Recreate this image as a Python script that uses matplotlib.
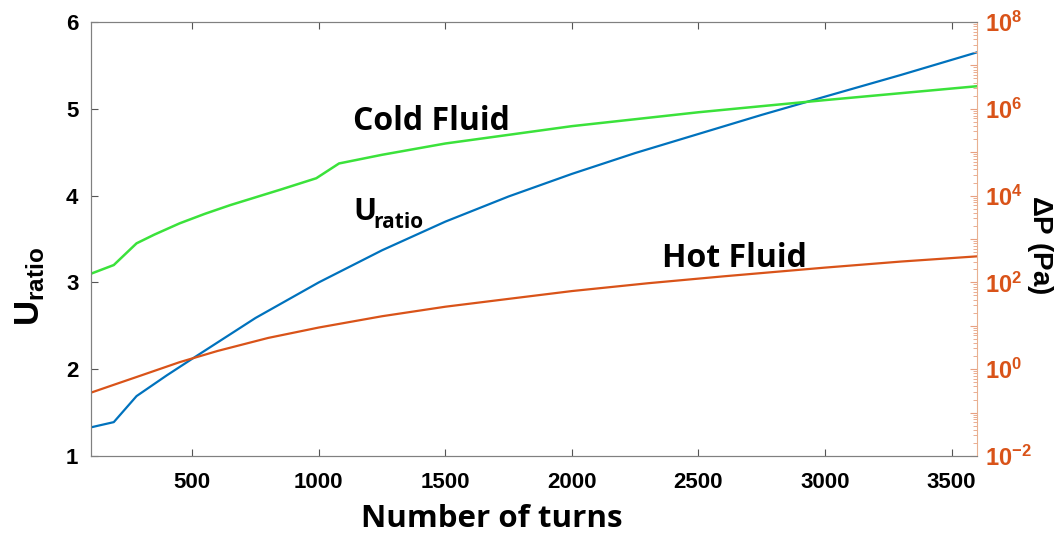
import math
import matplotlib
matplotlib.use("Agg")
import matplotlib.pyplot as plt
from matplotlib.ticker import LogLocator, NullFormatter, FuncFormatter

# ---- data ----
turns_u = [100, 190, 280, 400, 500, 750, 1000, 1250, 1500, 1750, 2000, 2250,
           2500, 2750, 3000, 3300, 3600]
u_ratio = [1.33, 1.39, 1.69, 1.93, 2.12, 2.59, 3.00, 3.37, 3.70, 3.99, 4.25, 4.49,
           4.71, 4.93, 5.14, 5.39, 5.65]

turns_cold = [100, 190, 280, 350, 450, 550, 650, 750, 850, 990, 1080, 1250, 1500,
              1750, 2000, 2250, 2500, 2750, 3000, 3300, 3600]
dp_cold = [158.5, 251, 794, 1259, 2291, 3802, 6026, 9120, 13800, 25100, 55000,
           87100, 158500, 251000, 398000, 575000, 832000, 1150000, 1585000,
           2290000, 3310000]

turns_hot = [100, 200, 300, 450, 600, 800, 1000, 1250, 1500, 1750, 2000, 2300,
             2600, 3000, 3300, 3600]
dp_hot = [0.288, 0.457, 0.724, 1.45, 2.63, 5.25, 9.12, 16.6, 27.5, 41.7, 63.1,
          95.5, 138, 219, 302, 398]

x_ticks = [500, 1000, 1500, 2000, 2500, 3000, 3500]
u_ticks = [1, 2, 3, 4, 5, 6]

BLUE = "#0072BD"
ORANGE = "#D95319"
GREEN = "#3BE23B"
TICKFONT = "Liberation Sans"
LABELFONT = "Open Sans"

plt.rcParams["mathtext.fontset"] = "custom"
plt.rcParams["mathtext.rm"] = "Liberation Sans:bold"
plt.rcParams["mathtext.bf"] = "Liberation Sans:bold"
plt.rcParams["mathtext.it"] = "Liberation Sans:bold"

fig = plt.figure(figsize=(10.63, 5.35), dpi=100)
ax = fig.add_axes([0.0856, 0.1477, 0.8334, 0.8112])
ax2 = ax.twinx()

ax.plot(turns_u, u_ratio, color=BLUE, lw=1.6, zorder=3)
ax2.plot(turns_cold, dp_cold, color=GREEN, lw=1.8)
ax2.plot(turns_hot, dp_hot, color=ORANGE, lw=1.6)

ax.set_xlim(100, 3600)
ax.set_ylim(1, 6)
ax2.set_yscale("log")
ax2.set_ylim(1e-2, 1e8)

ax.set_xticks(x_ticks)
ax.set_yticks(u_ticks)
ax.tick_params(axis="both", direction="in", length=5, width=0.8, color="#555555",
               labelsize=16, top=True)
ax.tick_params(axis="x", pad=11.5)
ax.tick_params(axis="y", pad=9)
for lab in ax.get_xticklabels() + ax.get_yticklabels():
    lab.set_fontfamily(TICKFONT)
    lab.set_fontweight("bold")

ax2.yaxis.set_major_locator(LogLocator(base=10, numticks=20))
ax2.yaxis.set_minor_locator(LogLocator(base=10, subs=range(2, 10), numticks=100))
ax2.yaxis.set_minor_formatter(NullFormatter())


def fmt(v, pos):
    e = int(round(math.log10(v)))
    if e % 2 == 0:
        return r"$\mathbf{10^{%d}}$" % e
    return ""


ax2.yaxis.set_major_formatter(FuncFormatter(fmt))
ax2.tick_params(axis="y", which="major", direction="in", length=5, width=0.8,
                color="#E8A080", labelcolor=ORANGE, labelsize=17, pad=6)
ax2.tick_params(axis="y", which="minor", direction="in", length=3, width=0.6,
                color="#E8A080")

for s in ["left", "top", "bottom"]:
    ax.spines[s].set_color("#808080")
    ax2.spines[s].set_color("#808080")
ax2.spines["right"].set_color("#E8B090")
ax.spines["right"].set_visible(False)

# axis labels
fig.text(492 / 1063, 1 - 527 / 535, "Number of turns", fontfamily=LABELFONT,
         fontweight="bold", fontsize=22.5, ha="center", va="baseline")
fig.text(30 / 1063, 1 - 286 / 535, r"$\mathbf{U_{ratio}}$", fontsize=25,
         rotation=90, ha="center", va="center")
fig.text(1040 / 1063, 1 - 245 / 535, r"$\mathbf{\Delta P\ (Pa)}$", fontsize=20,
         rotation=270, ha="center", va="center")

# in-plot annotations
ax.text(1135, 4.756, "Cold Fluid", fontfamily=LABELFONT, fontweight="bold",
        fontsize=23, ha="left", va="baseline")
ax.text(1135, 3.719, "U", fontfamily=LABELFONT, fontweight="bold",
        fontsize=22, ha="left", va="baseline")
ax.text(1216, 3.63, "ratio", fontfamily=LABELFONT, fontweight="bold",
        fontsize=15, ha="left", va="baseline")
ax.text(2356, 3.177, "Hot Fluid", fontfamily=LABELFONT, fontweight="bold",
        fontsize=23, ha="left", va="baseline")

fig.savefig("out.png", dpi=100)
